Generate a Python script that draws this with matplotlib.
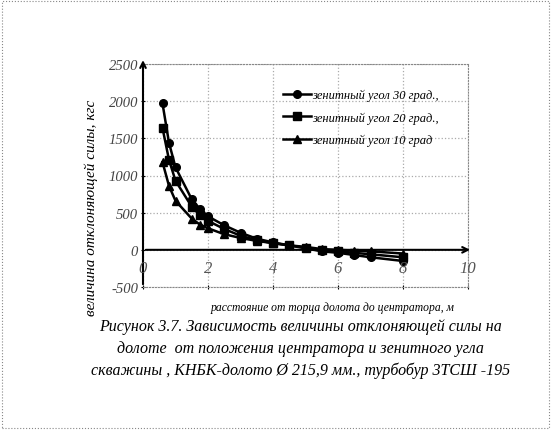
import matplotlib.pyplot as plt
from matplotlib.patches import Rectangle

# data
dist = [0.6, 0.8, 1.0, 1.5, 1.75, 2.0, 2.5, 3.0, 3.5, 4.0, 4.5, 5.0, 5.5, 6.0, 6.5, 7.0, 8.0]
angle30 = [1970, 1440, 1110, 680, 550, 450, 330, 230, 150, 100, 60, 20, -20, -40, -70, -100, -150]
angle20 = [1640, 1210, 930, 580, 470, 390, 280, 190, 130, 90, 60, 30, 0, -20, -40, -60, -100]
angle10 = [1180, 860, 660, 420, 340, 290, 210, 160, 120, 90, 60, 40, 10, 0, -10, -20, -50]
labels = ["зенитный угол 30 град.,", "зенитный угол 20 град.,", "зенитный угол 10 град"]
xticks = [0, 2, 4, 6, 8, 10]
yticks = [-500, 0, 500, 1000, 1500, 2000, 2500]

plt.rcParams['font.family'] = ['Liberation Serif', 'DejaVu Serif']
plt.rcParams['font.style'] = 'italic'

fig = plt.figure(figsize=(5.51, 4.31), dpi=100)
ax = fig.add_axes([143/551, 1-288/431, 325/551, 223/431])

# border round the whole picture
fig.patches.append(Rectangle((0.004, 0.005), 0.992, 0.99, transform=fig.transFigure,
                             fill=False, ls=':', lw=0.8, ec='#888888'))

ax.plot(dist, angle30, '-o', color='black', lw=1.8, ms=5.5, label=labels[0])
ax.plot(dist, angle20, '-s', color='black', lw=1.8, ms=5.5, label=labels[1])
ax.plot(dist, angle10, '-^', color='black', lw=1.8, ms=5.5, label=labels[2])

ax.set_xlim(0, 10)
ax.set_ylim(-500, 2500)
ax.grid(True, ls=':', color='#aaaaaa', lw=0.9)
for s in ax.spines.values():
    s.set_linestyle(':')
    s.set_color('#888888')
    s.set_linewidth(0.8)
ax.spines['left'].set_visible(False)

# axis lines with arrows
ax.annotate('', xy=(10.15, 0), xytext=(0, 0),
            arrowprops=dict(arrowstyle='->', color='black', lw=1.5), annotation_clip=False)
ax.annotate('', xy=(0, 2590), xytext=(0, -500),
            arrowprops=dict(arrowstyle='->', color='black', lw=1.5), annotation_clip=False)

ax.set_yticks(yticks)
ax.set_yticklabels([str(v) for v in yticks], fontsize=10.5, color='#444444')
ax.tick_params(axis='y', length=3, direction='inout', pad=2)
ax.set_xticks(xticks)
ax.set_xticklabels([])
ax.tick_params(axis='x', length=3, direction='inout')
for v in xticks:
    ax.text(v, -140, str(v), ha='center', va='top', fontsize=12, color='#555555')

ax.set_ylabel("величина отклоняющей силы, кгс", fontsize=11, labelpad=0)
ax.yaxis.set_label_coords(-0.14, 0.36)
ax.text(0.96, -0.065, "расстояние от торца долота до центратора, м", transform=ax.transAxes,
        ha='right', va='top', fontsize=8.4)

ax.legend(loc='upper right', bbox_to_anchor=(0.925, 0.91), frameon=False, fontsize=9,
          handlelength=2.2, handletextpad=0.1, labelspacing=0.8, borderaxespad=0)

fig.text(0.545, 1-327/431, "Рисунок 3.7. Зависимость величины отклоняющей силы на", ha='center', va='center', fontsize=11.5)
fig.text(0.545, 1-349/431, "долоте  от положения центратора и зенитного угла", ha='center', va='center', fontsize=11.5)
fig.text(0.545, 1-371/431, "скважины , КНБК-долото Ø 215,9 мм., турбобур 3ТСШ -195", ha='center', va='center', fontsize=11.5)

fig.savefig("out.png", dpi=100)
